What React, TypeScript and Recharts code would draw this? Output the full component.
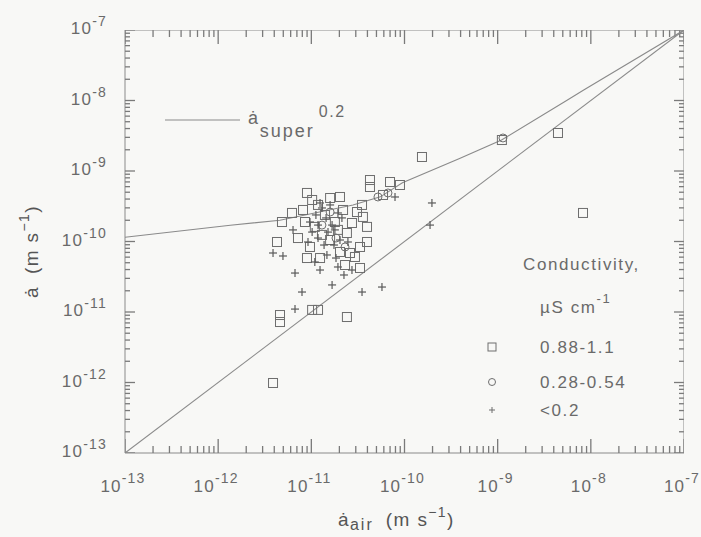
import React from 'react';
import { ScatterChart, Scatter, XAxis, YAxis } from 'recharts';

// Conductivity 0.88–1.1 µS cm⁻¹ : [ȧ_air, ȧ] in m s⁻¹
const condHigh: [number, number][] = [
  [4.28e-12, 9.84e-11], [4.84e-12, 1.89e-10], [6.2e-12, 2.54e-10], [8.14e-12, 2.8e-10],
  [8.98e-12, 4.88e-10], [1.02e-11, 3.88e-10], [8.55e-12, 1.89e-10], [1.09e-11, 1.61e-10],
  [1.59e-11, 4.14e-10], [2.03e-11, 4.28e-10], [2.19e-11, 2.8e-10], [2.41e-11, 1.32e-10],
  [3.5e-11, 3.3e-10], [3.58e-11, 2.23e-10], [3.96e-11, 1.61e-10], [3.96e-11, 9.84e-11],
  [4.26e-11, 7.45e-10], [4.26e-11, 5.93e-10], [6.99e-11, 6.98e-10], [8.94e-11, 6.33e-10],
  [5.88e-11, 4.57e-10], [3.33e-11, 8.36e-11], [2.94e-11, 6.03e-11], [3.33e-11, 4.21e-11],
  [2.6e-11, 6.87e-11], [2.03e-11, 7.1e-11], [8.98e-12, 5.83e-11], [1.24e-11, 5.83e-11],
  [9.67e-12, 8.36e-11], [4.61e-12, 9.06e-12], [4.61e-12, 7.21e-12], [1.02e-11, 1.07e-11],
  [1.18e-11, 1.07e-11], [2.41e-11, 8.49e-12], [3.88e-12, 9.84e-13], [1.54e-10, 1.58e-9],
  [1.11e-9, 2.75e-9], [4.44e-9, 3.46e-9], [8.24e-9, 2.54e-10], [1.4e-11, 2.38e-10],
  [1.79e-11, 1.89e-10], [1.3e-11, 1.24e-10], [1.59e-11, 1.05e-10], [1.93e-11, 1.46e-10],
  [1.18e-11, 3.3e-10], [2.3e-11, 4.64e-11], [7.19e-12, 1.12e-10], [2.73e-11, 1.83e-10],
  [3.09e-11, 2.62e-10],
];

// Conductivity 0.28–0.54 µS cm⁻¹
const condMid: [number, number][] = [
  [1.14e-9, 2.94e-9], [5.19e-11, 4.28e-10], [6.65e-11, 4.88e-10], [1.59e-11, 2.62e-10],
  [1.3e-11, 1.71e-10], [1.84e-11, 1.12e-10], [2.3e-11, 8.36e-11],
];

// Conductivity < 0.2 µS cm⁻¹
const condLow: [number, number][] = [
  [3.88e-12, 6.87e-11], [4.96e-12, 6.23e-11], [6.36e-12, 1.46e-10], [9.21e-12, 9.84e-11],
  [1.24e-11, 3.94e-11], [6.68e-12, 3.57e-11], [7.94e-12, 1.92e-11], [1.67e-11, 2.42e-11],
  [6.68e-12, 1.1e-11], [1.93e-11, 4.35e-11], [3.5e-11, 1.92e-11], [5.73e-11, 2.26e-11],
  [7.91e-11, 4.28e-10], [1.97e-10, 3.52e-10], [1.88e-10, 1.71e-10], [9.67e-12, 1.89e-10],
  [1.12e-11, 2.38e-10], [1.3e-11, 2.99e-10], [1.44e-11, 2.16e-10], [1.67e-11, 1.71e-10],
  [1.93e-11, 2.54e-10], [1.51e-11, 1.36e-10], [1.18e-11, 1.12e-10], [1.75e-11, 8.91e-11],
  [1.02e-11, 1.36e-10], [1.37e-11, 8.91e-11], [2.03e-11, 1.05e-10], [2.47e-11, 9.84e-11],
  [1.09e-11, 5.12e-11], [1.47e-11, 6.44e-11], [1.84e-11, 5.83e-11], [2.24e-11, 3.35e-11],
  [2.73e-11, 3.94e-11], [1.24e-11, 3.52e-10], [1.59e-11, 3.3e-10], [1.79e-11, 1.46e-10],
  [2.13e-11, 2.16e-10], [1.18e-11, 1.71e-10],
];

// ȧ_super 0.2 curve
const superX = [1e-13, 1.35e-12, 4.6e-12, 2.8e-11, 5.5e-11, 9.5e-11, 3.9e-10, 1.1e-9, 5.5e-9, 8.3e-9, 1e-7];
const superY = [1.15e-10, 1.7e-10, 2.0e-10, 3.3e-10, 4.3e-10, 6.8e-10, 1.5e-9, 2.75e-9, 1.0e-8, 1.4e-8, 1e-7];

// 1:1 line
const unityX = [1e-13, 1e-7];

const decades = [-13, -12, -11, -10, -9, -8, -7];
const minorSteps = [2, 3, 4, 5, 6, 7, 8, 9];
const majorTicks: number[] = decades.map((d) => parseFloat(`1e${d}`));
const minorTicks: number[] = decades
  .filter((d) => d < -7)
  .flatMap((d) => minorSteps.map((m) => parseFloat(`${m}e${d}`)));
const DOMAIN: [number, number] = [1e-13, 1e-7];
const LO = DOMAIN[0];
const HI = DOMAIN[1];
// frame edges nudged a hair inside the domain so the edge marks are not dropped by rounding
const EDGE_LO = LO * 1.0005;
const EDGE_HI = HI / 1.0005;

const TXT = '#6a6a6a';
const LINE = '#8a8a8a';
const TICK = '#7a7a7a';
const MARK = '#6e6e6e';
const FONT = '"Liberation Sans", Arial, Helvetica, sans-serif';

const toPts = (arr: [number, number][]) => arr.map(([x, y]) => ({ x, y }));
const superPts = superX.map((x, i) => ({ x, y: superY[i] }));
const unityPts = unityX.map((x) => ({ x, y: x }));

// frame tick positions as points on the four edges
const majorBottom = majorTicks.map((v) => ({ x: Math.min(Math.max(v, EDGE_LO), EDGE_HI), y: EDGE_LO }));
const minorBottom = minorTicks.map((v) => ({ x: v, y: EDGE_LO }));
const majorTop = majorTicks.map((v) => ({ x: Math.min(Math.max(v, EDGE_LO), EDGE_HI), y: EDGE_HI }));
const minorTop = minorTicks.map((v) => ({ x: v, y: EDGE_HI }));
const majorLeft = majorTicks.map((v) => ({ x: EDGE_LO, y: Math.min(Math.max(v, EDGE_LO), EDGE_HI) }));
const minorLeft = minorTicks.map((v) => ({ x: EDGE_LO, y: v }));
const majorRight = majorTicks.map((v) => ({ x: EDGE_HI, y: Math.min(Math.max(v, EDGE_LO), EDGE_HI) }));
const minorRight = minorTicks.map((v) => ({ x: EDGE_HI, y: v }));

const expOf = (v: number) => Math.round(Math.log10(v));

const BottomLabel = (p: any) => {
  const { x, y, payload } = p;
  return (
    <text x={x - 2} y={y + 39} textAnchor="middle" fill={TXT} fontSize={17} letterSpacing={1.2} fontFamily={FONT}>
      10<tspan dy={-9} fontSize={14}>{String(expOf(payload.value))}</tspan>
    </text>
  );
};

const LeftLabel = (p: any) => {
  const { x, y, payload } = p;
  return (
    <text x={x - 18} y={y + 4} textAnchor="end" fill={TXT} fontSize={17} letterSpacing={1.2} fontFamily={FONT}>
      10<tspan dy={-8} fontSize={14}>{String(expOf(payload.value))}</tspan>
    </text>
  );
};

const vMark = (len: number) => (p: any) => (
  <line x1={p.cx} x2={p.cx} y1={p.cy} y2={p.cy + len} stroke={TICK} strokeWidth={1.3} />
);
const hMark = (len: number) => (p: any) => (
  <line x1={p.cx} x2={p.cx + len} y1={p.cy} y2={p.cy} stroke={TICK} strokeWidth={1.3} />
);

const OpenSquare = (p: any) => (
  <rect x={p.cx - 4.5} y={p.cy - 4.5} width={9} height={9} fill="none" stroke={MARK} strokeWidth={1} />
);
const OpenCircle = (p: any) => <circle cx={p.cx} cy={p.cy} r={4} fill="none" stroke={MARK} strokeWidth={1} />;
const Plus = (p: any) => (
  <g stroke="#5a5a5a" strokeWidth={1.2}>
    <line x1={p.cx - 4} x2={p.cx + 4} y1={p.cy} y2={p.cy} />
    <line x1={p.cx} x2={p.cx} y1={p.cy - 4} y2={p.cy + 4} />
  </g>
);
const NoDot = () => <g />;

const textStyle = { fill: TXT, fontFamily: FONT, letterSpacing: 1.6 } as const;

// legends and axis titles, drawn with the bottom axis
const Decor = () => (
  <g>
    <line x1={165} x2={240} y1={120} y2={120} stroke={LINE} strokeWidth={1.1} />
    <text x={248} y={124} fontSize={18} {...textStyle}>
      ȧ<tspan dy={13} fontSize={18} letterSpacing={2}>super</tspan>
      <tspan dx={4} dy={-20} fontSize={16}>0.2</tspan>
    </text>

    <text x={523} y={270} fontSize={17} {...textStyle}>Conductivity,</text>
    <text x={540} y={313} fontSize={17} {...textStyle}>
      µS  cm<tspan dy={-10} fontSize={13}>-1</tspan>
    </text>
    <rect x={488} y={343} width={8} height={8} fill="none" stroke={MARK} />
    <text x={540} y={353} fontSize={17} {...textStyle}>0.88-1.1</text>
    <circle cx={492} cy={382} r={3.5} fill="none" stroke={MARK} />
    <text x={540} y={388} fontSize={17} {...textStyle}>0.28-0.54</text>
    <g stroke={MARK} strokeWidth={1}>
      <line x1={489} x2={495} y1={410} y2={410} />
      <line x1={492} x2={492} y1={407} y2={413} />
    </g>
    <text x={540} y={416} fontSize={17} {...textStyle}>&lt;0.2</text>

    <text x={338} y={526} fontSize={19} fill="#555" fontFamily={FONT} letterSpacing={1.4}>
      ȧ<tspan dy={4} fontSize={16} letterSpacing={2}>air</tspan>
      <tspan dx={12} dy={-4} fontSize={19}>(m s</tspan>
      <tspan dy={-9} fontSize={14}>−1</tspan>
      <tspan dy={9} fontSize={19}>)</tspan>
    </text>
    <text transform="rotate(-90)" x={-298} y={38} fontSize={19} fill="#555" fontFamily={FONT} letterSpacing={1.4}>
      ȧ<tspan dx={12} fontSize={19}>(m s</tspan>
      <tspan dy={-9} fontSize={14}>−1</tspan>
      <tspan dy={9} fontSize={19}>)</tspan>
    </text>
  </g>
);

const logAxis = {
  type: 'number' as const, scale: 'log' as const, domain: DOMAIN, allowDataOverflow: true,
  interval: 0 as const, ticks: majorTicks, tickSize: 0, tickMargin: 0, tickLine: false,
};

const tickSeries: [any[], any][] = [
  [majorBottom, vMark(-14)], [minorBottom, vMark(-7)],
  [majorTop, vMark(14)], [minorTop, vMark(7)],
  [majorLeft, hMark(10)], [minorLeft, hMark(5)],
  [majorRight, hMark(-10)], [minorRight, hMark(-5)],
];

export default function App() {
  return (
    <div style={{ position: 'absolute', left: 0, top: 0, width: 701, height: 537, background: '#f8f8f6' }}>
      <ScatterChart width={701} height={537} margin={{ top: 30, right: 17, bottom: 24, left: 25 }}>
        <XAxis xAxisId="b" dataKey="x" {...logAxis} axisLine={{ stroke: LINE }} tick={<BottomLabel />} height={60}
          orientation="bottom" label={<Decor />} />
        <YAxis yAxisId="l" dataKey="y" {...logAxis} axisLine={{ stroke: LINE }} tick={<LeftLabel />} width={100} orientation="left" />

        {tickSeries.map(([pts, Mark], i) => (
          <Scatter key={`frame-tick-${i}`} xAxisId="b" yAxisId="l" data={pts} shape={Mark} isAnimationActive={false} />
        ))}

        <Scatter xAxisId="b" yAxisId="l" data={[{ x: LO, y: HI }, { x: HI, y: HI }, { x: HI, y: LO }]}
          line={{ stroke: LINE, strokeWidth: 1 }} lineType="joint" shape={<NoDot />} isAnimationActive={false} />
        <Scatter xAxisId="b" yAxisId="l" data={unityPts} line={{ stroke: LINE, strokeWidth: 1.1 }} lineType="joint" shape={<NoDot />} isAnimationActive={false} />
        <Scatter xAxisId="b" yAxisId="l" data={superPts} line={{ stroke: LINE, strokeWidth: 1.1 }} lineType="joint" shape={<NoDot />} isAnimationActive={false} />
        <Scatter xAxisId="b" yAxisId="l" data={toPts(condHigh)} shape={<OpenSquare />} isAnimationActive={false} />
        <Scatter xAxisId="b" yAxisId="l" data={toPts(condMid)} shape={<OpenCircle />} isAnimationActive={false} />
        <Scatter xAxisId="b" yAxisId="l" data={toPts(condLow)} shape={<Plus />} isAnimationActive={false} />
      </ScatterChart>
    </div>
  );
}
